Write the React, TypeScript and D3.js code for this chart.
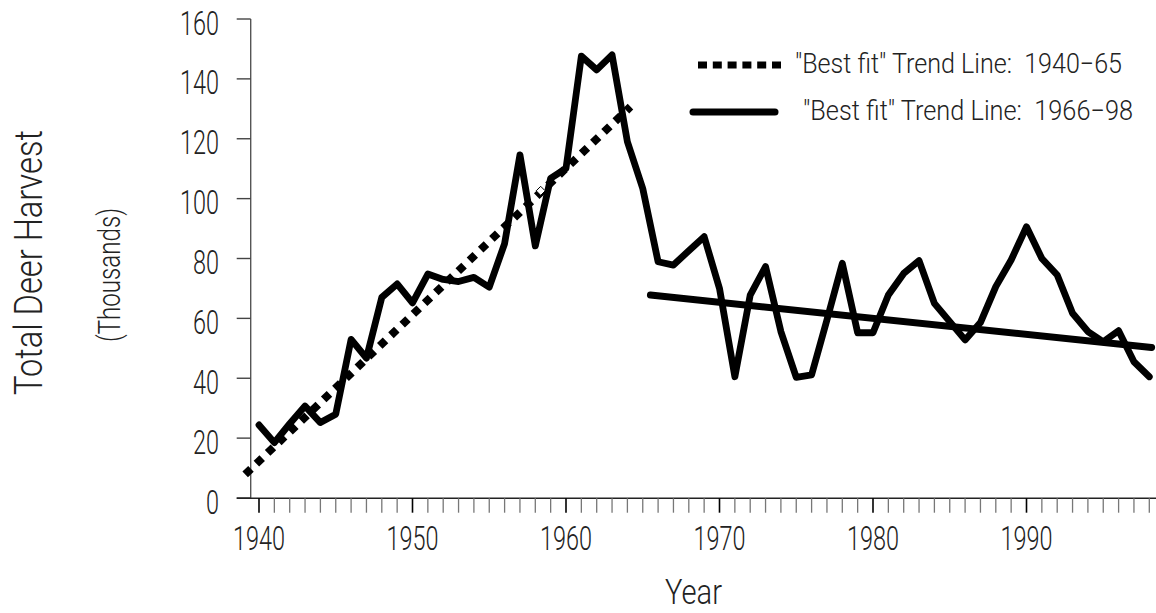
import React from "react";
import * as d3 from "d3";

// ---- Data (thousands of deer harvested) ----
const years: number[] = d3.range(1940, 1999);
const harvest: number[] = [
  24.4, 18.5, 24.8, 30.7, 25.2, 28.0, 53.0, 46.7, 67.0, 71.5,
  65.2, 74.8, 73.0, 72.3, 73.7, 70.4, 85.0, 114.6, 84.2, 106.8,
  110.1, 147.6, 143.0, 148.0, 119.0, 103.4, 78.9, 77.8, 82.6, 87.3,
  70.0, 40.5, 67.8, 77.3, 55.6, 40.3, 41.1, 59.5, 78.4, 55.2,
  55.2, 67.8, 75.0, 79.3, 65.0, 58.9, 52.8, 58.6, 70.6, 79.5,
  90.6, 80.0, 74.5, 61.7, 55.6, 52.2, 55.9, 45.5, 40.5,
];
const trendEarlyYears: number[] = [1939.1, 1964.2];
const trendEarlyValues: number[] = [7.9, 130.7];
const trendLateYears: number[] = [1965.5, 1998.15];
const trendLateValues: number[] = [67.8, 50.3];
const markerYear = 1958.35;
const markerValue = 102.6;
const yTicks: number[] = [0, 20, 40, 60, 80, 100, 120, 140, 160];
const xTickYears: number[] = d3.range(1940, 1999);
const xLabelYears: number[] = [1940, 1950, 1960, 1970, 1980, 1990];
const legendLabels: string[] = [
  "\"Best fit\" Trend Line:  1940\u221265",
  "\"Best fit\" Trend Line:  1966\u221298",
];
const yTitle = "Total Deer Harvest";
const yUnit = "(Thousands)";
const xTitle = "Year";

const FONT = "Roboto, 'DejaVu Sans', sans-serif";

export default function App() {
  const x = d3.scaleLinear().domain([1940, 1998]).range([259, 1149.3]);
  const y = d3.scaleLinear().domain([0, 160]).range([498, 19]);

  const line = d3
    .line<[number, number]>()
    .x((d) => x(d[0]))
    .y((d) => y(d[1]));

  const dataPts: [number, number][] = years.map((yr, i) => [yr, harvest[i]]);
  const early: [number, number][] = trendEarlyYears.map((yr, i) => [yr, trendEarlyValues[i]]);
  const late: [number, number][] = trendLateYears.map((yr, i) => [yr, trendLateValues[i]]);

  const mx = x(markerYear);
  const my = y(markerValue);
  const dm = 4.5;

  return (
    <svg
      width={1156}
      height={613}
      viewBox="0 0 1156 613"
      style={{ position: "absolute", left: 0, top: 0, background: "#fff" }}
    >
      {/* Y axis */}
      <line x1={250.7} x2={250.7} y1={y(160)} y2={y(0)} stroke="#555" strokeWidth={1.4} />
      {yTicks.map((t) => (
        <g key={"yt" + t}>
          <line x1={236.7} x2={250.7} y1={y(t)} y2={y(t)} stroke="#444" strokeWidth={1.4} />
          <text
            transform={`translate(219,${y(t) + 15.5}) scale(0.69,1)`}
            textAnchor="end"
            fontFamily={FONT}
            fontWeight={300}
            fontSize={34}
            fill="#222"
          >
            {t}
          </text>
        </g>
      ))}

      {/* X axis */}
      <line x1={236.7} x2={1156} y1={498.3} y2={498.3} stroke="#222" strokeWidth={1.4} />
      {xTickYears.map((yr) => (
        <line
          key={"xt" + yr}
          x1={x(yr)}
          x2={x(yr)}
          y1={498.3}
          y2={512.7}
          stroke={yr % 10 === 0 ? "#000" : "#777"}
          strokeWidth={yr % 10 === 0 ? 1.6 : 1.3}
        />
      ))}
      {xLabelYears.map((yr) => (
        <text
          key={"xl" + yr}
          transform={`translate(${x(yr)},550) scale(0.69,1)`}
          textAnchor="middle"
          fontFamily={FONT}
          fontWeight={300}
          fontSize={34}
          fill="#222"
        >
          {yr}
        </text>
      ))}

      {/* Axis titles */}
      <text
        transform="translate(42,262.5) rotate(-90)"
        textAnchor="middle"
        fontFamily={FONT}
        fontWeight={300}
        fontSize={39}
        textLength={265}
        lengthAdjust="spacingAndGlyphs"
        fill="#222"
      >
        {yTitle}
      </text>
      <text
        transform="translate(120,275) rotate(-90)"
        textAnchor="middle"
        fontFamily={FONT}
        fontWeight={300}
        fontSize={32}
        textLength={134}
        lengthAdjust="spacingAndGlyphs"
        fill="#222"
      >
        {yUnit}
      </text>
      <text
        x={693.5}
        y={604}
        textAnchor="middle"
        fontFamily={FONT}
        fontWeight={300}
        fontSize={35}
        textLength={57}
        lengthAdjust="spacingAndGlyphs"
        fill="#222"
      >
        {xTitle}
      </text>

      {/* Trend lines */}
      <path
        d={line(early) || ""}
        fill="none"
        stroke="#000"
        strokeWidth={8}
        strokeDasharray="8 7.5"
      />
      <path
        d={line(late) || ""}
        fill="none"
        stroke="#000"
        strokeWidth={7}
        strokeLinecap="round"
      />

      {/* Data line */}
      <path
        d={line(dataPts) || ""}
        fill="none"
        stroke="#000"
        strokeWidth={6.8}
        strokeLinejoin="round"
        strokeLinecap="round"
      />

      {/* Mean marker */}
      <path
        d={`M${mx - dm},${my} L${mx},${my - dm} L${mx + dm},${my} L${mx},${my + dm} Z`}
        fill="#fff"
        stroke="#000"
        strokeWidth={1}
      />

      {/* Legend */}
      <line x1={698} x2={781} y1={65} y2={65} stroke="#000" strokeWidth={7} strokeDasharray="9 5.8" />
      <text
        x={795}
        y={73}
        fontFamily={FONT}
        fontWeight={300}
        fontSize={27}
        textLength={327}
        lengthAdjust="spacingAndGlyphs"
        fill="#222"
        style={{ whiteSpace: "pre" }}
      >
        {legendLabels[0]}
      </text>
      <line x1={693} x2={775} y1={112} y2={112} stroke="#000" strokeWidth={7} strokeLinecap="round" />
      <text
        x={803}
        y={120}
        fontFamily={FONT}
        fontWeight={300}
        fontSize={27}
        textLength={330}
        lengthAdjust="spacingAndGlyphs"
        fill="#222"
        style={{ whiteSpace: "pre" }}
      >
        {legendLabels[1]}
      </text>
    </svg>
  );
}
